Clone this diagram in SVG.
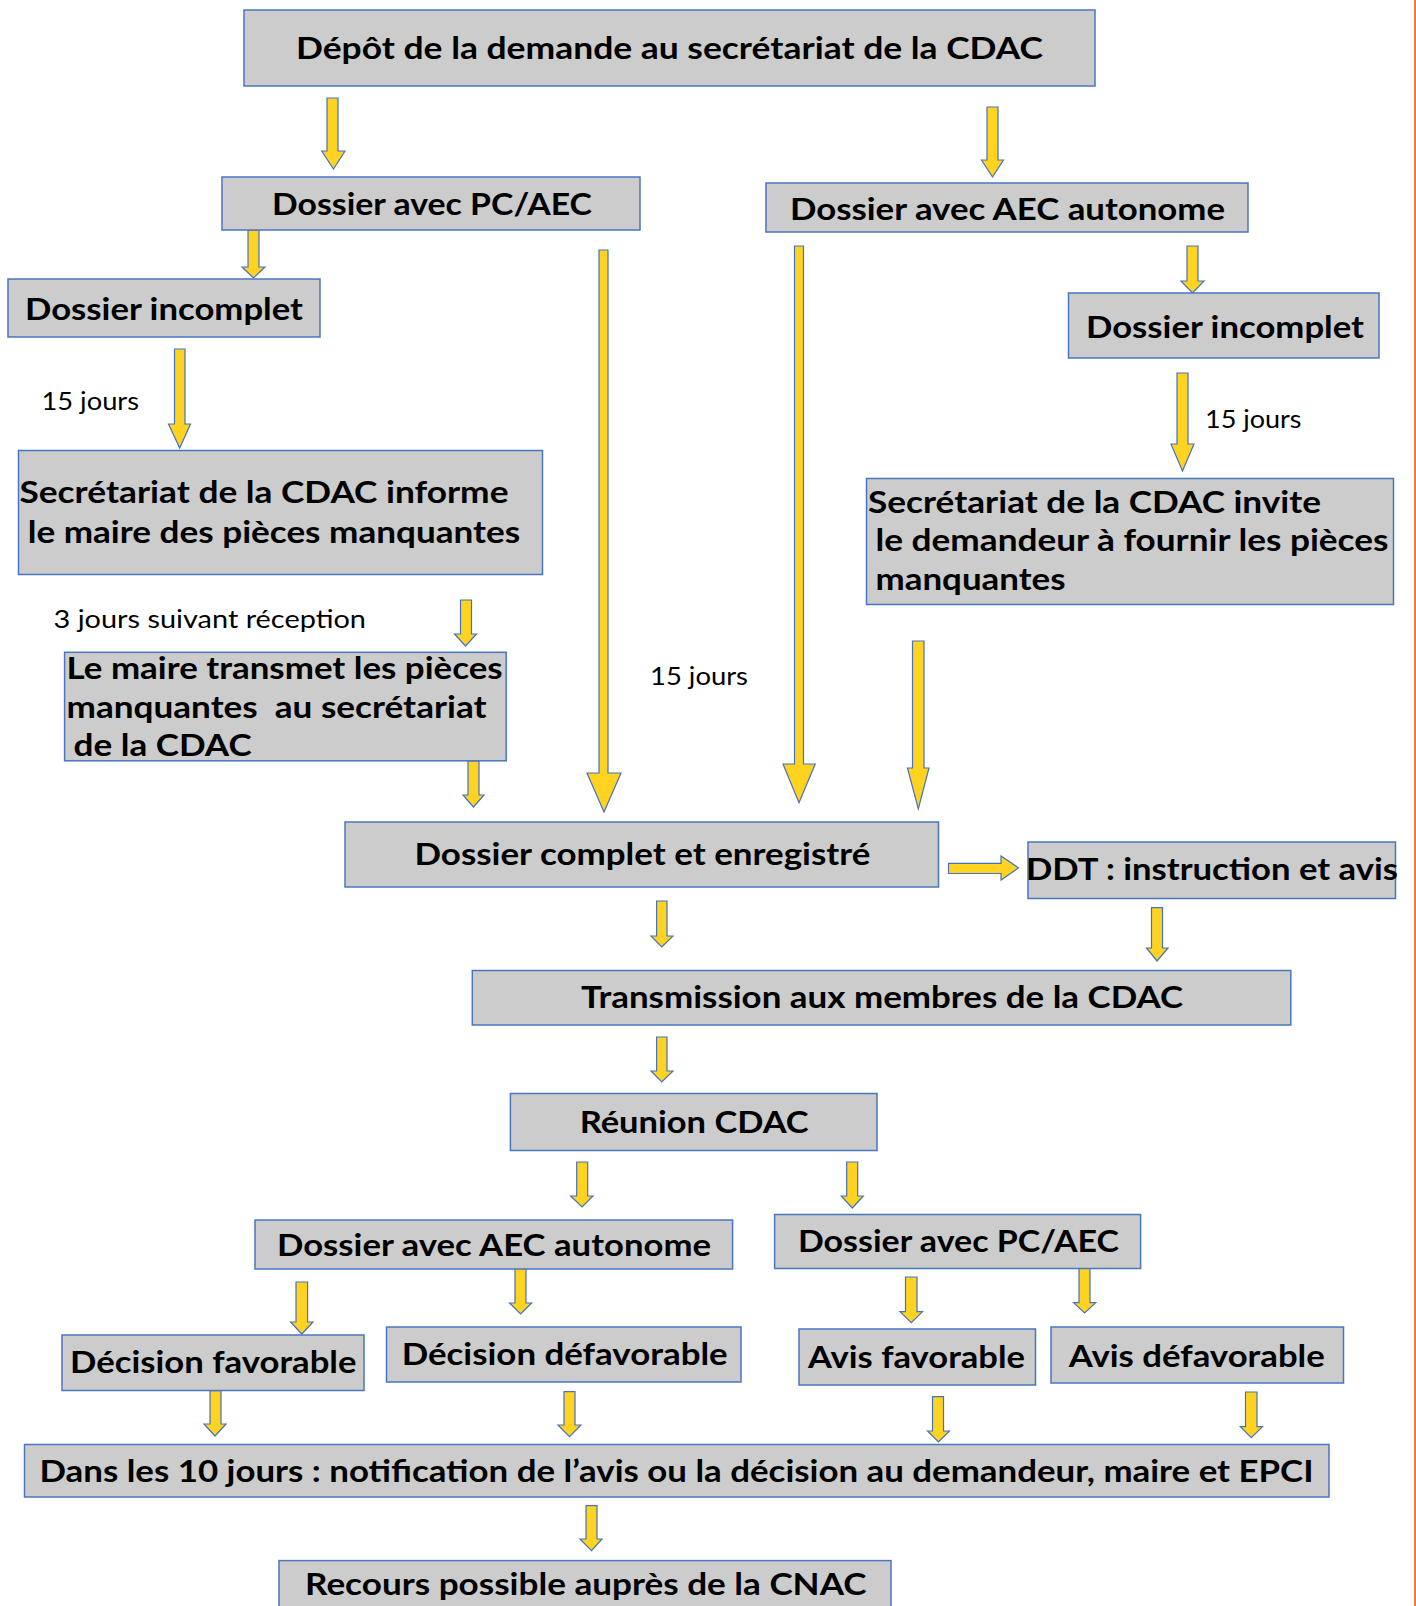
<svg xmlns="http://www.w3.org/2000/svg" width="1416" height="1606" viewBox="0 0 1416 1606">
<style>
.box{fill:#CCCCCC;stroke:#4A76C0;stroke-width:1.5}
.t{font-family:Lato,"Noto Sans","Liberation Sans",sans-serif;font-weight:700;font-size:31px;fill:#000}
.l{font-family:Lato,"Noto Sans","Liberation Sans",sans-serif;font-weight:400;font-size:25px;fill:#000}
.arr{fill:#FFD320;stroke:#4472C4;stroke-width:1.2;stroke-linejoin:miter}
</style>
<rect x="0" y="0" width="1416" height="1606" fill="#FFFFFF"/>
<rect x="1414" y="0" width="2" height="1606" fill="#ED7D31"/>

<g id="connectors">
<path class="arr" d="M327,98 H338 V151 H345 L333.5,169 L321.7,151 H327 Z"/>
<path class="arr" d="M987,107 H998 V160 H1003.5 L992.5,177 L981.5,160 H987 Z"/>
<path class="arr" d="M1187,246 H1198 V281 H1204 L1192.5,293 L1181,281 H1187 Z"/>
<path class="arr" d="M248,230 H259 V267 H265 L253.5,278 L242,267 H248 Z"/>
<path class="arr" d="M174.5,349 H185 V424 H190.5 L179.7,448 L168.5,424 H174.5 Z"/>
<path class="arr" d="M599,250 H608 V773 H621 L604,812 L587,773 H599 Z"/>
<path class="arr" d="M794.5,246 H803.5 V764 H815.2 L799,802.7 L783,764 H794.5 Z"/>
<path class="arr" d="M1177,373 H1188 V444 H1194 L1182.5,471 L1171,444 H1177 Z"/>
<path class="arr" d="M460.5,600 H471.5 V634 H476.5 L465.5,646 L454.5,634 H460.5 Z"/>
<path class="arr" d="M468,761 H479 V795 H484 L473.5,807 L463,795 H468 Z"/>
<path class="arr" d="M912.5,641 H924 V768 H929 L918.3,809 L907.5,768 H912.5 Z"/>
<path class="arr" d="M948.5,863.3 H1001 V856 L1018.5,867.8 L1001,880 V873.5 H948.5 Z"/>
<path class="arr" d="M656.6,901 H667 V936 H673 L661.8,947 L651,936 H656.6 Z"/>
<path class="arr" d="M1151.5,907.7 H1162.5 V948 H1168 L1157,961 L1146.5,948 H1151.5 Z"/>
<path class="arr" d="M656.6,1037 H667 V1071 H673 L661.8,1082 L651,1071 H656.6 Z"/>
<path class="arr" d="M576.7,1162 H587.7 V1196 H593 L582,1207 L570.7,1196 H576.7 Z"/>
<path class="arr" d="M846.7,1162 H857.7 V1196 H863.3 L852.3,1208 L841.3,1196 H846.7 Z"/>
<path class="arr" d="M296,1282 H307.6 V1322 H313 L301.8,1334 L290.6,1322 H296 Z"/>
<path class="arr" d="M515,1268 H526 V1303 H531.7 L520.6,1314 L509.6,1303 H515 Z"/>
<path class="arr" d="M905.5,1277 H917 V1311.7 H922.5 L911.3,1322.7 L900,1311.7 H905.5 Z"/>
<path class="arr" d="M1079,1268 H1090 V1302.7 H1095.7 L1084.6,1313 L1073.6,1302.7 H1079 Z"/>
<path class="arr" d="M210,1390.7 H221 V1424 H226 L215,1436 L204,1424 H210 Z"/>
<path class="arr" d="M564,1391.7 H575 V1425 H581 L569.5,1436.7 L558,1425 H564 Z"/>
<path class="arr" d="M932.5,1396.7 H943.5 V1431 H949.5 L938.5,1442 L927.5,1431 H932.5 Z"/>
<path class="arr" d="M1245.5,1392 H1257 V1426.7 H1262.5 L1251.3,1437.7 L1240.3,1426.7 H1245.5 Z"/>
<path class="arr" d="M586,1505.7 H597 V1539 H602 L591.5,1550.7 L580,1539 H586 Z"/>
</g>

<g id="n_depot"><rect class="box" x="244" y="10" width="851" height="76"/><text class="t" x="296" y="59" textLength="747" lengthAdjust="spacingAndGlyphs">Dépôt de la demande au secrétariat de la CDAC</text></g>
<g id="n_pc1"><rect class="box" x="222" y="177" width="418" height="53"/><text class="t" x="272" y="215" textLength="320" lengthAdjust="spacingAndGlyphs">Dossier avec PC/AEC</text></g>
<g id="n_aec1"><rect class="box" x="766" y="183" width="482" height="49"/><text class="t" x="790" y="220" textLength="435" lengthAdjust="spacingAndGlyphs">Dossier avec AEC autonome</text></g>
<g id="n_incomplet1"><rect class="box" x="8" y="279" width="312" height="58"/><text class="t" x="25" y="320" textLength="278" lengthAdjust="spacingAndGlyphs">Dossier incomplet</text></g>
<g id="n_incomplet2"><rect class="box" x="1068.5" y="293" width="310.5" height="65"/><text class="t" x="1086" y="338" textLength="278" lengthAdjust="spacingAndGlyphs">Dossier incomplet</text></g>
<g id="n_informe"><rect class="box" x="18.5" y="450.5" width="524" height="124"/><text class="t" x="19.5" y="503" textLength="489" lengthAdjust="spacingAndGlyphs">Secrétariat de la CDAC informe</text><text class="t" x="27.7" y="543" textLength="492.5" lengthAdjust="spacingAndGlyphs">le maire des pièces manquantes</text></g>
<g id="n_invite"><rect class="box" x="866.5" y="478.5" width="527" height="126"/><text class="t" x="868" y="513" textLength="453" lengthAdjust="spacingAndGlyphs">Secrétariat de la CDAC invite</text><text class="t" x="875.5" y="551" textLength="513" lengthAdjust="spacingAndGlyphs">le demandeur à fournir les pièces</text><text class="t" x="875.5" y="590" textLength="190" lengthAdjust="spacingAndGlyphs">manquantes</text></g>
<g id="n_maire"><rect class="box" x="64.6" y="652.3" width="441.6" height="108.5"/><text class="t" x="66.6" y="679" textLength="436" lengthAdjust="spacingAndGlyphs">Le maire transmet les pièces</text><text class="t" x="66.6" y="718" textLength="420" lengthAdjust="spacingAndGlyphs" xml:space="preserve">manquantes  au secrétariat</text><text class="t" x="73.6" y="756" textLength="178" lengthAdjust="spacingAndGlyphs">de la CDAC</text></g>
<g id="n_complet"><rect class="box" x="345" y="822" width="593.5" height="65"/><text class="t" x="414.5" y="865" textLength="456" lengthAdjust="spacingAndGlyphs">Dossier complet et enregistré</text></g>
<g id="n_ddt"><rect class="box" x="1028" y="842" width="367.5" height="56.5"/><text class="t" x="1026" y="880" textLength="372" lengthAdjust="spacingAndGlyphs">DDT : instruction et avis</text></g>
<g id="n_transmission"><rect class="box" x="472.3" y="970.5" width="818.5" height="54.5"/><text class="t" x="581" y="1008" textLength="602" lengthAdjust="spacingAndGlyphs">Transmission aux membres de la CDAC</text></g>
<g id="n_reunion"><rect class="box" x="510.4" y="1093.5" width="366.6" height="57"/><text class="t" x="579.7" y="1133" textLength="229" lengthAdjust="spacingAndGlyphs">Réunion CDAC</text></g>
<g id="n_aec2"><rect class="box" x="255" y="1220" width="477.6" height="49"/><text class="t" x="277" y="1255.7" textLength="434" lengthAdjust="spacingAndGlyphs">Dossier avec AEC autonome</text></g>
<g id="n_pc2"><rect class="box" x="774.6" y="1214.5" width="366" height="54"/><text class="t" x="798" y="1252" textLength="321" lengthAdjust="spacingAndGlyphs">Dossier avec PC/AEC</text></g>
<g id="n_decfav"><rect class="box" x="62" y="1335" width="302" height="55.5"/><text class="t" x="70" y="1373" textLength="286.5" lengthAdjust="spacingAndGlyphs">Décision favorable</text></g>
<g id="n_decdef"><rect class="box" x="386.5" y="1327" width="354.5" height="55"/><text class="t" x="401.7" y="1365" textLength="326" lengthAdjust="spacingAndGlyphs">Décision défavorable</text></g>
<g id="n_avisfav"><rect class="box" x="799" y="1329" width="236.5" height="56"/><text class="t" x="808" y="1368" textLength="217" lengthAdjust="spacingAndGlyphs">Avis favorable</text></g>
<g id="n_avisdef"><rect class="box" x="1051" y="1327" width="292.5" height="56"/><text class="t" x="1068.8" y="1366.7" textLength="256" lengthAdjust="spacingAndGlyphs">Avis défavorable</text></g>
<g id="n_dans"><rect class="box" x="24.5" y="1444.5" width="1304.5" height="52.5"/><text class="t" x="39.5" y="1481.7" textLength="1274" lengthAdjust="spacingAndGlyphs">Dans les 10 jours : notification de l’avis ou la décision au demandeur, maire et EPCI</text></g>
<g id="n_recours"><rect class="box" x="279" y="1560.6" width="612" height="60"/><text class="t" x="305" y="1595" textLength="561.5" lengthAdjust="spacingAndGlyphs">Recours possible auprès de la CNAC</text></g>

<g id="labels">
<text class="l" x="41.5" y="409.5" textLength="97.5" lengthAdjust="spacingAndGlyphs">15 jours</text>
<text class="l" x="1205" y="428" textLength="96.5" lengthAdjust="spacingAndGlyphs">15 jours</text>
<text class="l" x="53.5" y="627.5" textLength="312.5" lengthAdjust="spacingAndGlyphs">3 jours suivant réception</text>
<text class="l" x="650" y="685" textLength="98" lengthAdjust="spacingAndGlyphs">15 jours</text>
</g>
</svg>
